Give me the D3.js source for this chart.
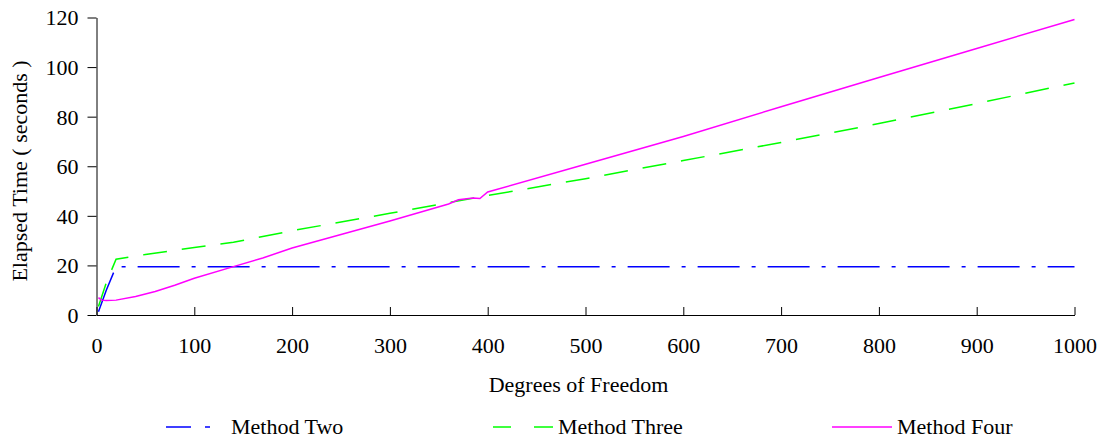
<!DOCTYPE html>
<html>
<head>
<meta charset="utf-8">
<script src="https://cdn.jsdelivr.net/npm/d3@7"></script>
<style>
    body { margin: 0; background: #fff; }
</style>
</head>
<body>
<svg id="chart" width="1104" height="440"></svg>
<script>
// values
const xTicks = [0, 100, 200, 300, 400, 500, 600, 700, 800, 900, 1000];
const yTicks = [0, 20, 40, 60, 80, 100, 120];

const dofTwo = [2, 10, 20, 100, 200, 300, 400, 500, 600, 700, 800, 900, 1000];
const timeTwo = [1.3, 10, 19.5, 19.5, 19.5, 19.5, 19.5, 19.5, 19.5, 19.5, 19.5, 19.5, 19.5];

const dofThree = [2, 10, 20, 50, 100, 140, 200, 300, 360, 400, 500, 600, 700, 800, 900, 1000];
const timeThree = [3.4, 13, 22.5, 24.4, 27.2, 29.3, 34, 41, 45.3, 48.2, 55, 62.3, 69.6, 77.2, 85.3, 93.6];

const dofFour = [2, 5, 10, 20, 40, 60, 80, 100, 140, 170, 200, 250, 300, 360, 370, 385, 392, 400, 500, 600, 700, 800, 900, 1000];
const timeFour = [7, 6, 5.8, 6, 7.5, 9.5, 12, 14.8, 19.5, 23, 27, 32.5, 37.9, 44.8, 46.5, 47.2, 47, 49.6, 60.8, 72, 84, 95.8, 107.5, 119.2];

const seriesNames = ['Method Two', 'Method Three', 'Method Four'];

const fontFam = "Tinos, 'Liberation Serif', FreeSerif, 'DejaVu Serif', serif";

class lineChart {

    constructor(_config, _data) {
        this.config = {
            parentElement: _config.parentElement,
            containerWidth: 1104,
            containerHeight: 440,
            margin: { top: 17.5, bottom: 125, right: 29.5, left: 96.5 }
        }
        this.data = _data;
        this.initVis();
    }

    initVis() {
        let vis = this;

        vis.width = vis.config.containerWidth - vis.config.margin.left - vis.config.margin.right;
        vis.height = vis.config.containerHeight - vis.config.margin.top - vis.config.margin.bottom;

        vis.svg = d3.select(vis.config.parentElement)
            .style('font-family', fontFam);

        vis.chart = vis.svg.append('g')
            .attr('transform', `translate(${vis.config.margin.left}, ${vis.config.margin.top})`);

        const xScale = d3.scaleLinear()
            .domain([0, 1000])
            .range([0, vis.width]);

        const yScale = d3.scaleLinear()
            .domain([0, 120])
            .range([vis.height, 0]);

        // x ticks point up into the plot, y ticks point out
        vis.xAxis = d3.axisBottom(xScale)
            .tickValues(xTicks)
            .tickFormat(d3.format('d'))
            .tickSize(-8)
            .tickSizeOuter(0)
            .tickPadding(22);

        vis.yAxis = d3.axisLeft(yScale)
            .tickValues(yTicks)
            .tickFormat(d3.format('d'))
            .tickSize(9)
            .tickSizeOuter(0)
            .tickPadding(9);

        vis.xAxisGroup = vis.chart.append('g')
            .attr('transform', `translate(0, ${vis.height})`)
            .call(vis.xAxis);

        vis.yAxisGroup = vis.chart.append('g')
            .call(vis.yAxis);

        // d3 puts font-family="sans-serif" on the axis groups; take it off
        vis.xAxisGroup.attr('font-family', null);
        vis.yAxisGroup.attr('font-family', null);

        vis.chart.selectAll('.domain, .tick line').attr('stroke', '#000');
        vis.chart.selectAll('.tick text')
            .style('font-family', fontFam)
            .style('font-size', '22px');
        vis.yAxisGroup.selectAll('.tick text').attr('dy', '0.34em');

        // axis titles
        vis.svg.append('text')
            .attr('x', vis.config.margin.left + xScale(500) - 7)
            .attr('y', 392)
            .attr('text-anchor', 'middle')
            .style('font-family', fontFam)
            .style('font-size', '22px')
            .text('Degrees of Freedom');

        vis.svg.append('text')
            .attr('transform', 'translate(27, 171) rotate(-90)')
            .attr('text-anchor', 'middle')
            .style('font-family', fontFam)
            .style('font-size', '22px')
            .text('Elapsed Time ( seconds )');

        const line = d3.line()
            .x(d => xScale(d[0]))
            .y(d => yScale(d[1]));

        vis.chart.selectAll('.series')
            .data(vis.data)
            .join('path')
            .attr('class', 'series')
            .attr('fill', 'none')
            .attr('stroke', d => d.color)
            .attr('stroke-width', 1.5)
            .attr('stroke-dasharray', d => d.dash)
            .attr('d', d => line(d.points));

        // legend
        const legend = vis.svg.append('g')
            .selectAll('g')
            .data(vis.data)
            .join('g')
            .attr('transform', d => `translate(${d.legendX}, 427)`);

        legend.append('line')
            .attr('x1', 0)
            .attr('x2', d => d.legendLen)
            .attr('stroke', d => d.color)
            .attr('stroke-width', 1.5)
            .attr('stroke-dasharray', d => d.legendDash);

        legend.append('text')
            .attr('x', d => d.legendLen + 5)
            .attr('y', 7)
            .style('font-family', fontFam)
            .style('font-size', '22px')
            .text(d => d.name);
    }
};

const chartData = [
    { name: seriesNames[0], points: d3.zip(dofTwo, timeTwo), color: '#0000ff',
      dash: '42,12,4,12', legendX: 166, legendLen: 60, legendDash: '25,14,5,100' },
    { name: seriesNames[1], points: d3.zip(dofThree, timeThree), color: '#00ff00',
      dash: '24,15', legendX: 493, legendLen: 60, legendDash: '18,23,19' },
    { name: seriesNames[2], points: d3.zip(dofFour, timeFour), color: '#ff00ff',
      dash: null, legendX: 832, legendLen: 60, legendDash: null }
];

let chart = new lineChart({ parentElement: '#chart' }, chartData);
</script>
</body>
</html>
